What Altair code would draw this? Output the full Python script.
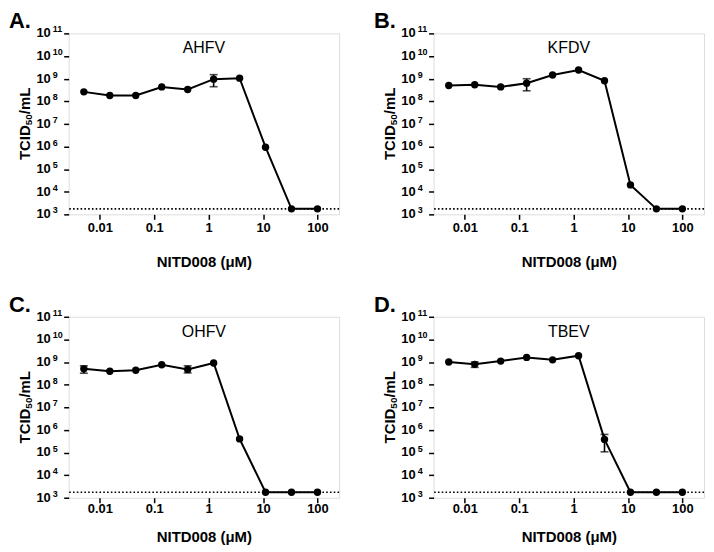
import altair as alt
import pandas as pd

# ---------------- data ----------------
conc = [0.00508, 0.01524, 0.04572, 0.1372, 0.4115, 1.235, 3.704, 11.11, 33.33, 100.0]
LOD = 1.75e3

ahfv = [2.6e8, 1.8e8, 1.8e8, 4.3e8, 3.3e8, 9.5e8, 1.05e9, 9.3e5, 1.75e3, 1.75e3]
kfdv = [5.0e8, 5.4e8, 4.3e8, 6.3e8, 1.45e9, 2.4e9, 8.1e8, 2.0e4, 1.75e3, 1.75e3]
ohfv = [5.0e8, 3.9e8, 4.3e8, 7.6e8, 4.7e8, 9.1e8, 4.0e5, 1.75e3, 1.75e3, 1.75e3]
tbev = [1.0e9, 7.9e8, 1.1e9, 1.6e9, 1.25e9, 1.9e9, 3.8e5, 1.75e3, 1.75e3, 1.75e3]

# error bars (x, low, high)
ahfv_err_x = [1.235]
ahfv_err_lo = [4.4e8]
ahfv_err_hi = [1.5e9]
kfdv_err_x = [0.1372]
kfdv_err_lo = [2.9e8]
kfdv_err_hi = [9.9e8]
ohfv_err_x = [0.00508, 0.4115]
ohfv_err_lo = [3.2e8, 3.3e8]
ohfv_err_hi = [6.8e8, 6.8e8]
tbev_err_x = [0.01524, 3.704]
tbev_err_lo = [5.8e8, 1.07e5]
tbev_err_hi = [1.0e9, 6.3e5]

letters = ["A.", "B.", "C.", "D."]
viruses = ["AHFV", "KFDV", "OHFV", "TBEV"]

x_ticks = [0.01, 0.1, 1, 10, 100]
y_ticks = [1e3, 1e4, 1e5, 1e6, 1e7, 1e8, 1e9, 1e10, 1e11]
y_tick_base = ["10"] * 9
y_tick_exp = ["3", "4", "5", "6", "7", "8", "9", "10", "11"]
x_domain = [0.00267, 250]
y_domain = [1e3, 1e11]

y_title_parts = ["TCID", "50", "/mL"]

FONT = "Liberation Sans"
W, H = 272, 182


def x_axis(label_pad, title_pad):
    return alt.Axis(values=x_ticks, format="~g", title="NITD008 (μM)",
                    grid=False, domain=False, tickSize=5, tickWidth=1.5,
                    tickColor="black", labelColor="black", labelFont=FONT,
                    labelFontSize=13, labelFontWeight="bold",
                    labelPadding=label_pad,
                    titleFont=FONT, titleFontSize=15, titleFontWeight="bold",
                    titleColor="black", titlePadding=title_pad,
                    minExtent=22, maxExtent=22)


y_axis = alt.Axis(values=y_ticks, labels=False, title=None,
                  grid=False, domain=False, tickSize=5, tickWidth=1.5,
                  tickColor="black")

xs = alt.Scale(type="log", domain=x_domain, nice=False)
ys = alt.Scale(type="log", domain=y_domain, nice=False)

ylab_df = pd.DataFrame({"v": y_ticks, "base": y_tick_base, "exp": y_tick_exp})


def panel(letter, virus, vals, ex, elo, ehi, xax):
    df = pd.DataFrame({"conc": conc, "titer": vals})
    edf = pd.DataFrame({"conc": ex, "lo": elo, "hi": ehi})
    ldf = pd.DataFrame({"lod": [LOD]})
    tdf = pd.DataFrame({"name": [virus]})

    base_x = alt.X("conc:Q", scale=xs, axis=xax)
    lod = alt.Chart(ldf).mark_rule(color="black", strokeWidth=1.6,
                                   strokeDash=[1.6, 2.2]).encode(
        y=alt.Y("lod:Q", scale=ys, axis=y_axis))
    line = alt.Chart(df).mark_line(color="black", strokeWidth=2).encode(
        x=base_x, y=alt.Y("titer:Q", scale=ys, axis=y_axis))
    pts = alt.Chart(df).mark_circle(color="black", opacity=1, size=55).encode(
        x=base_x, y=alt.Y("titer:Q", scale=ys, axis=y_axis))
    err = alt.Chart(edf).mark_rule(color="black", strokeWidth=1.6).encode(
        x=base_x, y=alt.Y("lo:Q", scale=ys, axis=y_axis), y2="hi:Q")
    cap_lo = alt.Chart(edf).mark_tick(color="black", orient="horizontal",
                                      size=8, thickness=1.6).encode(
        x=base_x, y=alt.Y("lo:Q", scale=ys, axis=y_axis))
    cap_hi = alt.Chart(edf).mark_tick(color="black", orient="horizontal",
                                      size=8, thickness=1.6).encode(
        x=base_x, y=alt.Y("hi:Q", scale=ys, axis=y_axis))
    name = alt.Chart(tdf).mark_text(font=FONT, fontSize=16, color="black",
                                    align="center", baseline="middle").encode(
        x=alt.value(W / 2), y=alt.value(15), text="name:N")

    # y tick labels: "10" with a raised exponent
    tens = alt.Chart(ylab_df).mark_text(
        font=FONT, fontSize=13, fontWeight="bold", color="black",
        align="right", baseline="middle").encode(
        x=alt.value(-18), y=alt.Y("v:Q", scale=ys, axis=y_axis), text="base:N")
    exps = alt.Chart(ylab_df).mark_text(
        font=FONT, fontSize=9, fontWeight="bold", color="black",
        align="left", baseline="middle", dy=-4).encode(
        x=alt.value(-16), y=alt.Y("v:Q", scale=ys, axis=y_axis), text="exp:N")

    # y title "TCID50/mL" with subscript 50
    t1 = alt.Chart(pd.DataFrame({"t": [y_title_parts[0]]})).mark_text(
        font=FONT, fontSize=15, fontWeight="bold", color="black", angle=270,
        align="left", baseline="middle").encode(
        x=alt.value(-44), y=alt.value(H / 2 + 36.4), text="t:N")
    t2 = alt.Chart(pd.DataFrame({"t": [y_title_parts[1]]})).mark_text(
        font=FONT, fontSize=10, fontWeight="bold", color="black", angle=270,
        align="left", baseline="middle").encode(
        x=alt.value(-39.5), y=alt.value(H / 2 + 1.4), text="t:N")
    t3 = alt.Chart(pd.DataFrame({"t": [y_title_parts[2]]})).mark_text(
        font=FONT, fontSize=15, fontWeight="bold", color="black", angle=270,
        align="left", baseline="middle").encode(
        x=alt.value(-44), y=alt.value(H / 2 - 9.7), text="t:N")

    return alt.layer(lod, line, err, cap_lo, cap_hi, pts, name,
                     tens, exps, t1, t2, t3).properties(
        width=W, height=H,
        title=alt.Title(letter, anchor="start", frame="group", dx=-60,
                        fontSize=22, fontWeight="bold", font=FONT,
                        color="black", offset=-8))


top_x = x_axis(2, 18)
bot_x = x_axis(0, 10)

pA = panel(letters[0], viruses[0], ahfv, ahfv_err_x, ahfv_err_lo, ahfv_err_hi, top_x)
pB = panel(letters[1], viruses[1], kfdv, kfdv_err_x, kfdv_err_lo, kfdv_err_hi, top_x)
pC = panel(letters[2], viruses[2], ohfv, ohfv_err_x, ohfv_err_lo, ohfv_err_hi, bot_x)
pD = panel(letters[3], viruses[3], tbev, tbev_err_x, tbev_err_lo, tbev_err_hi, bot_x)

chart = alt.vconcat(
    alt.hconcat(pA, pB, spacing=32),
    alt.hconcat(pC, pD, spacing=32),
    spacing=23,
).properties(padding=0).configure_view(
    stroke="black", strokeWidth=2
).configure(font=FONT, background="white")

chart.save("out.html", embed_options={"renderer": "svg", "actions": False})
